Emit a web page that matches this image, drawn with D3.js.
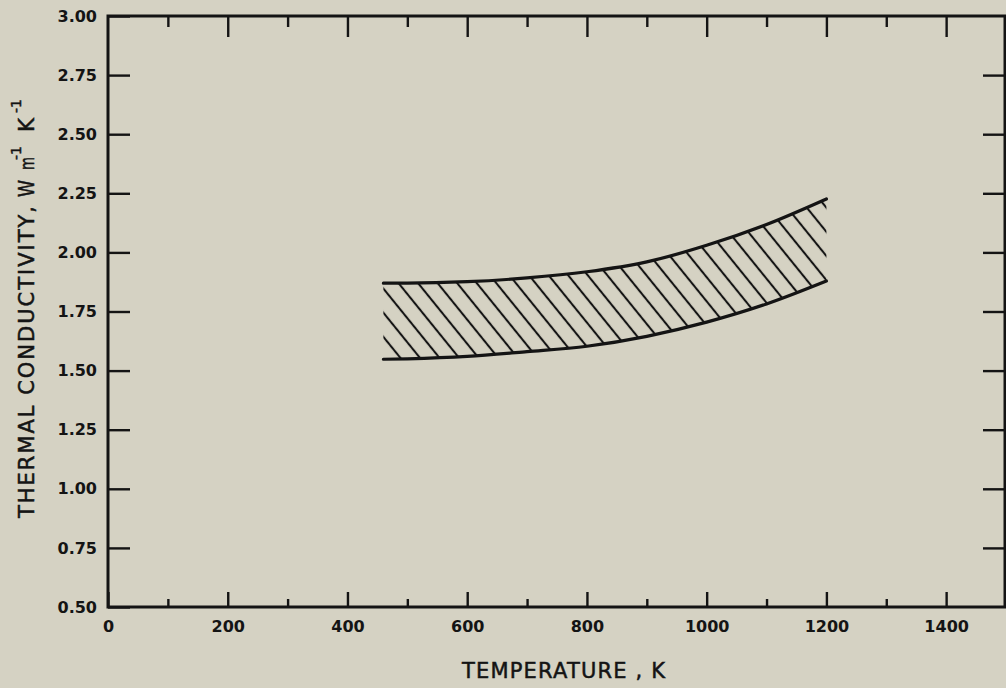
<!DOCTYPE html>
<html>
<head>
<meta charset="utf-8">
<script src="https://cdn.jsdelivr.net/npm/d3@7"></script>
<style>
  html, body { margin: 0; padding: 0; background: #d5d2c3; }
  svg { display: block; }
</style>
</head>
<body>
<svg id="chart" width="1006" height="688"></svg>
<script>
// Temperature grid (K) and bounds of the thermal-conductivity band (W m^-1 K^-1)
const temperatures = [460, 500, 600, 700, 800, 900, 1000, 1100, 1200];
const upperBound   = [1.870, 1.870, 1.876, 1.892, 1.918, 1.960, 2.030, 2.118, 2.226];
const lowerBound   = [1.548, 1.550, 1.560, 1.580, 1.603, 1.645, 1.705, 1.782, 1.879];

// Axis ticks
const xMajorTicks = [0, 200, 400, 600, 800, 1000, 1200, 1400];
const xMinorTicks = [100, 300, 500, 700, 900, 1100, 1300];
const yTicks = [0.50, 0.75, 1.00, 1.25, 1.50, 1.75, 2.00, 2.25, 2.50, 2.75, 3.00];

const INK = "#141414";
const svg = d3.select("#chart");

const x = d3.scaleLinear().domain([0, 1500]).range([108, 1006]);
const y = d3.scaleLinear().domain([0.5, 3.0]).range([607, 16]);

const band = temperatures.map((t, i) => ({ t, hi: upperBound[i], lo: lowerBound[i] }));

// Diagonal hatching pattern
const defs = svg.append("defs");
const pat = defs.append("pattern")
  .attr("id", "hatch")
  .attr("patternUnits", "userSpaceOnUse")
  .attr("width", 15.2).attr("height", 10)
  .attr("patternTransform", "translate(3,0) rotate(-39)");
pat.append("line")
  .attr("x1", 7.6).attr("x2", 7.6).attr("y1", -1).attr("y2", 11)
  .attr("stroke", INK).attr("stroke-width", 2.1);

const curve = d3.curveMonotoneX;

// Hatched band between the bounds
svg.append("path")
  .datum(band)
  .attr("fill", "url(#hatch)")
  .attr("d", d3.area().curve(curve)
    .x(d => x(d.t)).y0(d => y(d.lo)).y1(d => y(d.hi)));

// Bounding curves
[["hi"], ["lo"]].forEach(([key]) => {
  svg.append("path")
    .datum(band)
    .attr("fill", "none")
    .attr("stroke", INK)
    .attr("stroke-width", 3.2)
    .attr("stroke-linecap", "round")
    .attr("d", d3.line().curve(curve).x(d => x(d.t)).y(d => y(d[key])));
});

// Axes
function styleAxis(g) {
  g.select(".domain").remove();
  g.selectAll(".tick line").attr("stroke", INK).attr("stroke-width", 2.4);
  g.selectAll(".tick text")
    .attr("fill", INK)
    .attr("font-family", "'DejaVu Sans', sans-serif")
    .attr("font-weight", "bold")
    .attr("font-size", 16);
}

// bottom: labelled major ticks + minor ticks
svg.append("g").attr("transform", `translate(0,${y(0.5)})`)
  .call(d3.axisBottom(x).tickValues(xMajorTicks).tickSize(-15).tickSizeOuter(0)
    .tickPadding(14).tickFormat(d3.format("d")))
  .call(styleAxis);
svg.append("g").attr("transform", `translate(0,${y(0.5)})`)
  .call(d3.axisBottom(x).tickValues(xMinorTicks).tickSize(-8).tickSizeOuter(0).tickFormat(""))
  .call(styleAxis);

// top
svg.append("g").attr("transform", `translate(0,${y(3.0)})`)
  .call(d3.axisTop(x).tickValues(xMajorTicks.filter(d => d > 0)).tickSize(-21).tickSizeOuter(0).tickFormat(""))
  .call(styleAxis);
svg.append("g").attr("transform", `translate(0,${y(3.0)})`)
  .call(d3.axisTop(x).tickValues(xMinorTicks).tickSize(-11).tickSizeOuter(0).tickFormat(""))
  .call(styleAxis);

// left with labels
svg.append("g").attr("transform", `translate(${x(0)},0)`)
  .call(d3.axisLeft(y).tickValues(yTicks).tickSize(-22).tickSizeOuter(0)
    .tickPadding(11).tickFormat(d3.format(".2f")))
  .call(styleAxis);

// right
svg.append("g").attr("transform", `translate(1005,0)`)
  .call(d3.axisRight(y).tickValues(yTicks.slice(1, -1)).tickSize(-22).tickSizeOuter(0).tickFormat(""))
  .call(styleAxis);

// frame
svg.append("rect")
  .attr("x", x(0)).attr("y", y(3.0))
  .attr("width", 1005 - x(0)).attr("height", y(0.5) - y(3.0))
  .attr("fill", "none").attr("stroke", INK).attr("stroke-width", 3);

// Axis titles
const titleFont = "'DejaVu Sans', sans-serif";
svg.append("text")
  .attr("x", 462).attr("y", 678)
  .attr("font-family", titleFont).attr("font-size", 21)
  .attr("fill", INK).attr("stroke", INK).attr("stroke-width", 0.5)
  .attr("textLength", 203).attr("lengthAdjust", "spacing")
  .text("TEMPERATURE , K");

const yt = svg.append("g").attr("transform", "translate(34,518) rotate(-90)")
  .attr("font-family", titleFont).attr("fill", INK)
  .attr("stroke", INK).attr("stroke-width", 0.5);
yt.append("text").attr("x", 0).attr("font-size", 21)
  .attr("textLength", 312).attr("lengthAdjust", "spacing")
  .text("THERMAL CONDUCTIVITY,");
yt.append("text").attr("x", 321).attr("font-size", 21)
  .attr("textLength", 17).attr("lengthAdjust", "spacingAndGlyphs").text("W");
yt.append("text").attr("x", 348).attr("font-size", 19)
  .attr("textLength", 13).attr("lengthAdjust", "spacingAndGlyphs").text("m");
yt.append("text").attr("x", 358).attr("y", -13).attr("font-size", 14).text("-1");
yt.append("text").attr("x", 386).attr("font-size", 21)
  .attr("textLength", 14).attr("lengthAdjust", "spacingAndGlyphs").text("K");
yt.append("text").attr("x", 405).attr("y", -13).attr("font-size", 14).text("-1");
</script>
</body>
</html>
